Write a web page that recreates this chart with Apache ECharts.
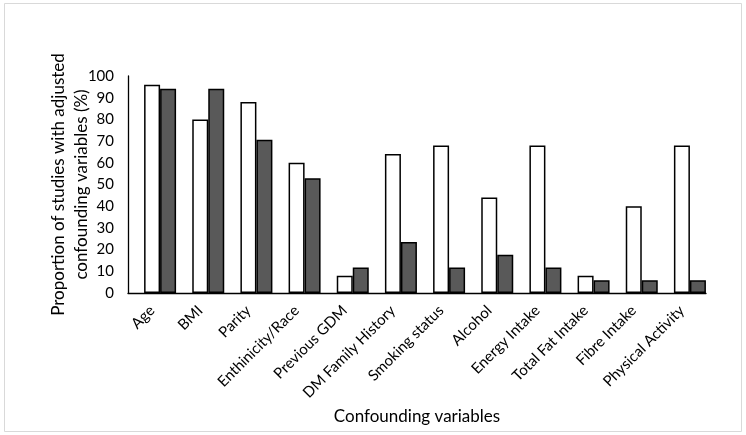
<!DOCTYPE html>
<html>
<head>
<meta charset="utf-8">
<script src="https://cdn.jsdelivr.net/npm/echarts@6/dist/echarts.min.js"></script>
<style>
  html, body { margin: 0; padding: 0; background: #fff; }
  #main { width: 746px; height: 435px; }
</style>
</head>
<body>
<div id="main"></div>
<script>
// categories and values
var categories = ['Age', 'BMI', 'Parity', 'Enthinicity/Race', 'Previous GDM', 'DM Family History',
    'Smoking status', 'Alcohol', 'Energy Intake', 'Total Fat Intake', 'Fibre Intake', 'Physical Activity'];
var whiteValues = [96, 80, 88, 60, 8, 64, 68, 44, 68, 8, 40, 68];
var darkValues = [94.1, 94.1, 70.6, 52.9, 11.8, 23.5, 11.8, 17.6, 11.8, 5.9, 5.9, 5.9];
var yTicks = [0, 10, 20, 30, 40, 50, 60, 70, 80, 90, 100];
// the original leaves an empty slot on the left of each pair
var spacerValues = [];

var font = 'Lato, "Noto Sans", sans-serif';
var chart = echarts.init(document.getElementById('main'));

var option = {
    backgroundColor: '#fff',
    animation: false,
    graphic: [{
        type: 'rect',
        shape: { x: 4.5, y: 3.5, width: 737, height: 428 },
        style: { fill: 'none', stroke: '#d9d9d9', lineWidth: 1 },
        silent: true
    }],
    grid: { left: 128, right: 40, top: 76, bottom: 142 },
    xAxis: {
        type: 'category',
        data: categories,
        name: 'Confounding variables',
        nameLocation: 'middle',
        nameGap: 115,
        nameMoveOverlap: false,
        nameTextStyle: { fontFamily: font, fontSize: 17, color: '#000' },
        axisLine: { lineStyle: { color: '#000', width: 1.3 } },
        axisTick: { show: false },
        axisLabel: {
            rotate: 45,
            interval: 0,
            margin: 15,
            fontFamily: font,
            fontSize: 15,
            color: '#000'
        }
    },
    yAxis: {
        type: 'value',
        min: yTicks[0],
        max: yTicks[yTicks.length - 1],
        interval: 10,
        name: 'Proportion of studies with adjusted\nconfounding variables (%)',
        nameLocation: 'middle',
        nameRotate: 90,
        nameGap: 35,
        nameMoveOverlap: false,
        nameTextStyle: { fontFamily: font, fontSize: 17, color: '#000', lineHeight: 23 },
        axisLine: { show: true, lineStyle: { color: '#000', width: 1.3 } },
        axisTick: { show: false },
        splitLine: { show: false },
        axisLabel: { fontFamily: font, fontSize: 15, color: '#000', margin: 14 }
    },
    series: [{
        type: 'bar',
        data: spacerValues,
        barWidth: 16,
        barGap: '0%',
        barCategoryGap: '0%',
        silent: true
    }, {
        type: 'bar',
        data: whiteValues,
        barWidth: 16,
        itemStyle: { color: '#fff', borderColor: '#000', borderWidth: 1.5 }
    }, {
        type: 'bar',
        data: darkValues,
        barWidth: 16,
        itemStyle: { color: '#595959', borderColor: '#000', borderWidth: 1.5 }
    }]
};

chart.setOption(option);
</script>
</body>
</html>
